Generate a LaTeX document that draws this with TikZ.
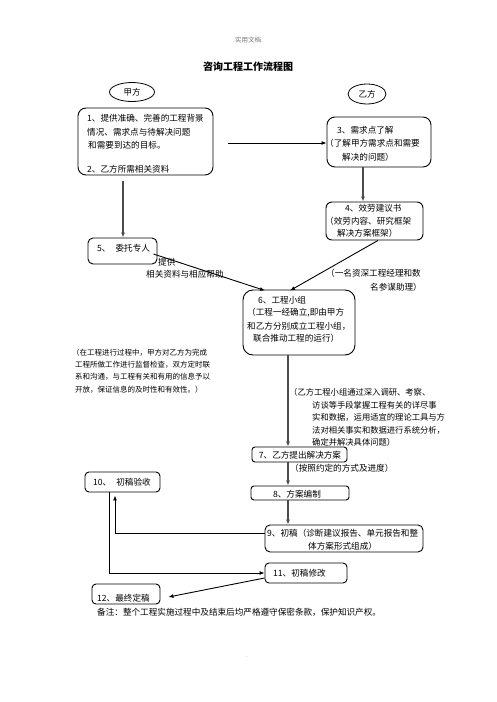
\documentclass[tikz,border=0pt]{standalone}
\usepackage{fontspec}
\setmainfont{Noto Sans CJK SC}
\usetikzlibrary{shapes.geometric,fit,arrows.meta}
\begin{document}
\begin{tikzpicture}[x=1pt,y=-1pt,
  box/.style={draw=black,line width=0.9pt,inner sep=0pt,rounded corners=#1},
  box/.default=6pt,
  side/.style={draw=black,line width=0.8pt,ellipse,inner sep=0pt,font=\fontsize{8.5}{10}\selectfont},
  txt/.style={inner sep=0pt,anchor=west,font=\fontsize{8.6}{10}\selectfont},
  ctxt/.style={inner sep=0pt,anchor=center,font=\fontsize{8.6}{10}\selectfont},
  lnote/.style={inner sep=0pt,anchor=west,font=\fontsize{7.5}{9}\selectfont},
  rnote/.style={inner sep=0pt,anchor=west,font=\fontsize{8.3}{10}\selectfont},
  arr/.style={draw=black,line width=0.9pt,-{Latex[length=5pt,width=4pt]}},
  garr/.style={draw=black!70,line width=1.1pt,-{Latex[length=5pt,width=4pt]}},
  ln/.style={draw=black,line width=0.9pt}]
\useasboundingbox (0,0) rectangle (496,702);
% header and title
\node[inner sep=0pt,text=black!55,font=\fontsize{6.5}{8}\selectfont] (hdr) at (248,40) {.实用文档.};
\node[inner sep=0pt,font=\fontsize{10}{12}\selectfont\bfseries] (title) at (248,67) {咨询工程工作流程图};
% sides
\node[side,minimum width=45pt,minimum height=19pt] (jia) at (132,92) {甲方};
\node[side,minimum width=38pt,minimum height=20pt] (yi) at (367,94) {乙方};
% boxes
\node[box=8pt,fit={(78,108) (213,175)}] (b1) {};
\node[box=8pt,fit={(327,117) (431,167)}] (b3) {};
\node[box=6pt,fit={(326,202) (423,240)}] (b4) {};
\node[box=5pt,fit={(88,238) (157,264)}] (b5) {};
\node[box=10pt,fit={(243,290) (355,355)}] (b6) {};
\node[box=3pt,fit={(252,447) (347,462)}] (b7) {};
\node[box=4pt,fit={(85,472) (160,492)}] (b10) {};
\node[box=3pt,fit={(251,486) (349,500)}] (b8) {};
\node[box=5pt,fit={(265,525) (423,552)}] (b9) {};
\node[box=4pt,fit={(265,563) (347,583)}] (b11) {};
\node[box=4pt,fit={(92,584) (160,604)}] (b12) {};
% box 1 text
\node[txt] (t1a) at (87,118) {1、提供准确、完善的工程背景};
\node[txt] (t1b) at (87,132) {情况、需求点与待解决问题};
\node[txt] (t1c) at (88,145) {和需要到达的目标。};
\node[txt] (t1d) at (87,169) {2、乙方所需相关资料};
% box 3 text
\node[txt] (t3a) at (337,130) {3、需求点了解};
\node[txt] (t3b) at (325,143) {（了解甲方需求点和需要};
\node[txt] (t3c) at (342,157) {解决的问题）};
% box 4 text
\node[txt] (t4a) at (345,208) {4、效劳建议书};
\node[txt] (t4b) at (325,221) {（效劳内容、研究框架};
\node[txt] (t4c) at (337,233) {解决方案框架）};
% box 5 text
\node[txt] (t5) at (97,248) {5、\hspace{5pt}委托专人};
\node[txt] (t5b) at (158,262) {提供};
\node[txt] (t5c) at (146,274) {相关资料与相应帮助};
% note 4
\node[txt] (n4a) at (326,273) {（一名资深工程经理和数};
\node[txt,anchor=east] (n4b) at (422,287) {名参谋助理）};
% box 6 text
\node[txt] (t6a) at (258,300) {6、工程小组};
\node[txt] (t6b) at (247,313) {（工程一经确立,即由甲方};
\node[txt] (t6c) at (247,326) {和乙方分别成立工程小组，};
\node[txt] (t6d) at (253,338) {联合推动工程的运行）};
% left note
\node[lnote] (ln1) at (72,353) {（在工程进行过程中，甲方对乙方为完成};
\node[lnote] (ln2) at (75,365) {工程所做工作进行监督检查，双方定时联};
\node[lnote] (ln3) at (75,377) {系和沟通，与工程有关和有用的信息予以};
\node[lnote] (ln4) at (75,390) {开放，保证信息的及时性和有效性。）};
% right note
\node[rnote] (rn1) at (289,392) {（乙方工程小组通过深入调研、考察、};
\node[rnote] (rn2) at (312,405) {访谈等手段掌握工程有关的详尽事};
\node[rnote] (rn3) at (312,417) {实和数据，运用适宜的理论工具与方};
\node[rnote] (rn4) at (312,430) {法对相关事实和数据进行系统分析，};
\node[rnote] (rn5) at (312,442) {确定并解决具体问题）};
% box 7 etc
\node[ctxt] (t7) at (300,455) {7、乙方提出解决方案};
\node[txt] (t7b) at (290,468) {（按照约定的方式及进度）};
\node[txt] (t10) at (93,482) {10、\hspace{5pt}初稿验收};
\node[ctxt] (t8) at (297,494) {8、方案编制};
\node[txt] (t9a) at (267,533) {9、初稿（诊断建议报告、单元报告和整};
\node[txt] (t9b) at (308,546) {体方案形式组成）};
\node[txt] (t11) at (273,573) {11、初稿修改};
\node[txt] (t12) at (97,598) {12、最终定稿};
\node[txt] (rem) at (97,612) {备注：整个工程实施过程中及结束后均严格遵守保密条款，保护知识产权。};
\node[inner sep=0pt,text=black!50,font=\fontsize{6}{7}\selectfont] (ftr) at (247,657) {.};
% helper coordinates
\coordinate (s13) at (228,143);
\coordinate (x363) at (363,0);
\coordinate (s15) at (123,181);
\coordinate (x288) at (288,0);
% connectors
\draw[arr] (s13) -- (s13 -| b3.west);
\draw[garr] (b3.south -| x363) -- (b4.north -| x363);
\draw[garr] (s15) -- (s15 |- b5.north);
\draw[arr] ([shift={(-4pt,-3pt)}]b5.east) -- ([xshift=-34pt,yshift=-1pt]b6.north);
\draw[arr] ([xshift=3.5pt]b4.south) -- ([xshift=-9pt,yshift=-1pt]b6.north);
\draw[garr] (b6.south -| x288) -- (b7.north -| x288);
\draw[garr] (b7.south -| x288) -- (b8.north -| x288);
\draw[garr] (b8.south -| x288) -- (b9.north -| x288);
\draw[arr] ([yshift=5.5pt]b9.west) -| ([xshift=-7.5pt,yshift=-3pt]b10.south);
\draw[arr] ([xshift=-13.5pt]b10.south) |- (b11.west);
\draw[arr] ([yshift=-5pt]b11.west) -- ([shift={(8pt,-3pt)}]b12.east);
\end{tikzpicture}
\end{document}
